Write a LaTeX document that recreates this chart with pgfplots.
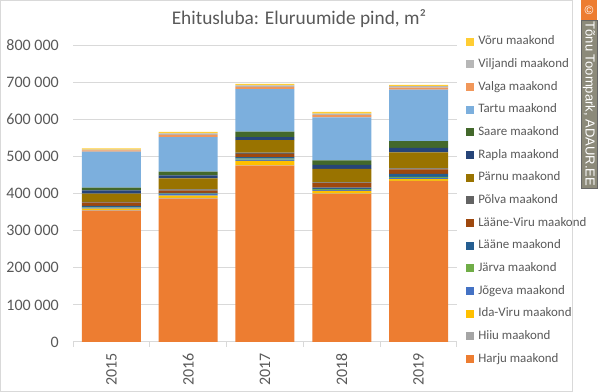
\documentclass[border=0pt]{standalone}
\usepackage{pgfplots}
\pgfplotsset{compat=1.18}
\usepackage{pgfplotstable}
\usepackage{fontspec}
\setmainfont{Carlito}
\newfontfamily\wmfont{Liberation Sans}
\definecolor{textgray}{HTML}{595959}
\definecolor{gridgray}{HTML}{D9D9D9}
\definecolor{cHarju}{HTML}{ED7D31}
\definecolor{cHiiu}{HTML}{A5A5A5}
\definecolor{cIdaViru}{HTML}{FFC000}
\definecolor{cJogeva}{HTML}{4472C4}
\definecolor{cJarva}{HTML}{70AD47}
\definecolor{cLaane}{HTML}{255E91}
\definecolor{cLaaneViru}{HTML}{9E480E}
\definecolor{cPolva}{HTML}{636363}
\definecolor{cParnu}{HTML}{997300}
\definecolor{cRapla}{HTML}{264478}
\definecolor{cSaare}{HTML}{43682B}
\definecolor{cTartu}{HTML}{7CAFDD}
\definecolor{cValga}{HTML}{F1975A}
\definecolor{cViljandi}{HTML}{B7B7B7}
\definecolor{cVoru}{HTML}{FFCD33}
\definecolor{wmgray}{RGB}{140,138,122}
\definecolor{wmorange}{HTML}{ED7D31}

\pgfplotstableread{
x harju hiiu idaviru jogeva jarva laane laaneviru polva parnu rapla saare tartu valga viljandi voru
0 354000 1500 3500  3000 1500 3000 9000  2000 22000 9000  7000  97000  4000 2000 3000
1 386000 2000 6000  4000 2000 2000 6000  3000 30000 8000  10000 93000  6000 4000 4000
2 475000 1000 12000 3000 3000 4000 9000  3000 34000 8000  15000 114000 6000 4000 4500
3 399000 1000 7000  3000 2000 4000 12000 2000 36000 11000 12000 116000 6000 4000 5000
4 433000 1000 5000  3000 3000 8000 12000 3000 43000 12000 18000 139000 5000 4000 3500
}\data

\begin{document}
\begin{tikzpicture}
\path[use as bounding box] (0,0) rectangle (450pt,294pt);
\draw[gridgray, line width=0.75pt] (0.4pt,0.4pt) rectangle (429pt,293.6pt);
\begin{axis}[
  at={(54.75pt,37.5pt)}, anchor=south west,
  scale only axis, width=288pt, height=222.75pt,
  ybar stacked, bar width=44.25pt,
  xmin=-0.5, xmax=4.5, ymin=0, ymax=800000,
  ytick={0,100000,...,800000},
  xtick={0,1,2,3,4},
  xticklabels={2015,2016,2017,2018,2019},
  minor xtick={-0.5,0.5,1.5,2.5,3.5,4.5},
  xtick pos=lower, ytick pos=left,
  major tick length=0pt, minor tick length=3.75pt,
  tick align=outside,
  minor tick style={gridgray, line width=0.75pt},
  axis line style={draw=none},
  ymajorgrids, major grid style={gridgray, line width=0.75pt},
  scaled y ticks=false,
  /pgf/number format/.cd, fixed, 1000 sep={\ }, assume math mode=true,
  /pgfplots/.cd,
  yticklabel style={font=\fontsize{12}{14}\selectfont, text=textgray, anchor=east, inner sep=0pt, xshift=-10.5pt},
  xticklabel style={font=\fontsize{12}{14}\selectfont, text=textgray, yshift=-8pt, rotate=90, anchor=east, inner sep=0pt},
  legend image code/.code={\fill[#1] (0pt,-3pt) rectangle (6pt,3pt); \path (9pt,0pt);},
  reverse legend,
  legend cell align=left,
  legend style={at={(1.0234,1.0325)}, anchor=north west, draw=none, fill=none, inner sep=0pt,
    font=\fontsize{9.7}{11}\selectfont, text=textgray, row sep=8pt,
    nodes={inner sep=0pt, text height=7pt, text depth=2pt}},
]
\addplot[fill=cHarju, draw=none] table[x=x,y=harju]{\data}; \addlegendentry{Harju maakond}
\addplot[fill=cHiiu, draw=none] table[x=x,y=hiiu]{\data}; \addlegendentry{Hiiu maakond}
\addplot[fill=cIdaViru, draw=none] table[x=x,y=idaviru]{\data}; \addlegendentry{Ida-Viru maakond}
\addplot[fill=cJogeva, draw=none] table[x=x,y=jogeva]{\data}; \addlegendentry{Jõgeva maakond}
\addplot[fill=cJarva, draw=none] table[x=x,y=jarva]{\data}; \addlegendentry{Järva maakond}
\addplot[fill=cLaane, draw=none] table[x=x,y=laane]{\data}; \addlegendentry{Lääne maakond}
\addplot[fill=cLaaneViru, draw=none] table[x=x,y=laaneviru]{\data}; \addlegendentry{Lääne-Viru maakond}
\addplot[fill=cPolva, draw=none] table[x=x,y=polva]{\data}; \addlegendentry{Põlva maakond}
\addplot[fill=cParnu, draw=none] table[x=x,y=parnu]{\data}; \addlegendentry{Pärnu maakond}
\addplot[fill=cRapla, draw=none] table[x=x,y=rapla]{\data}; \addlegendentry{Rapla maakond}
\addplot[fill=cSaare, draw=none] table[x=x,y=saare]{\data}; \addlegendentry{Saare maakond}
\addplot[fill=cTartu, draw=none] table[x=x,y=tartu]{\data}; \addlegendentry{Tartu maakond}
\addplot[fill=cValga, draw=none] table[x=x,y=valga]{\data}; \addlegendentry{Valga maakond}
\addplot[fill=cViljandi, draw=none] table[x=x,y=viljandi]{\data}; \addlegendentry{Viljandi maakond}
\addplot[fill=cVoru, draw=none] table[x=x,y=voru]{\data}; \addlegendentry{Võru maakond}
\end{axis}
\node[anchor=base, inner sep=0pt, text=textgray, font=\fontsize{14.5}{17}\selectfont] at (224.25pt,275.25pt) {Ehitusluba: Eluruumide pind, m²};
% watermark
\fill[wmorange] (435.75pt,279pt) rectangle (447.75pt,294pt);
\node[text=white, font=\wmfont\fontsize{9}{10}\selectfont, inner sep=0pt] at (441.75pt,286.5pt) {\textcopyright};
\fill[wmgray, draw=black!60, line width=0.5pt] (435.75pt,153pt) rectangle (447.75pt,279pt);
\node[rotate=-90, text=white, font=\wmfont\fontsize{9.8}{11}\selectfont, inner sep=0pt] at (441.75pt,216pt) {Tõnu Toompark, ADAUR.EE};
\end{tikzpicture}
\end{document}
